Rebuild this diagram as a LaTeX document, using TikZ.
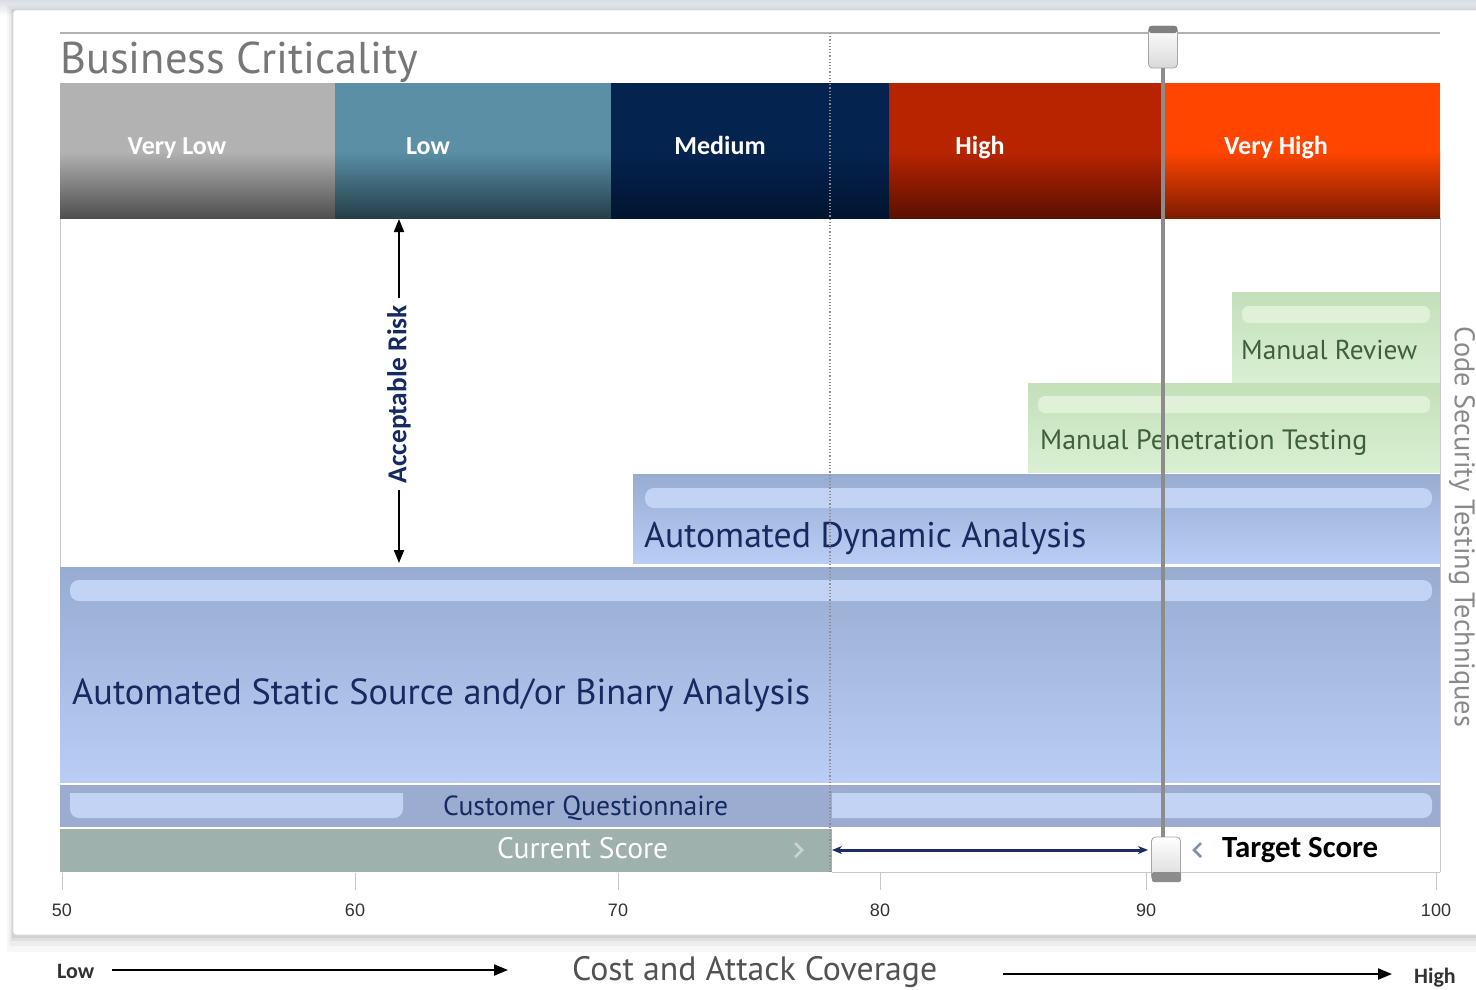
\documentclass[tikz,border=0pt]{standalone}
\usepackage{fontspec}
\usepackage{graphicx}
\setmainfont{PT Sans}
\newfontfamily\calfont{Carlito}
\newfontfamily\arialfont{Liberation Sans}
\usetikzlibrary{arrows.meta}
\newcommand\fitw[2]{\resizebox{#1pt}{!}{#2}}
\definecolor{bgtop}{HTML}{D9DDE3}
\definecolor{panelborder}{HTML}{D3D8DF}
\definecolor{titlegray}{HTML}{777777}
\definecolor{vlowT}{HTML}{B2B2B2}
\definecolor{vlowB}{HTML}{4E4E4E}
\definecolor{lowT}{HTML}{5A8FA6}
\definecolor{lowB}{HTML}{243E49}
\definecolor{medT}{HTML}{05234F}
\definecolor{medB}{HTML}{011530}
\definecolor{highT}{HTML}{B82400}
\definecolor{highB}{HTML}{5A1000}
\definecolor{vhighT}{HTML}{FF4500}
\definecolor{vhighB}{HTML}{7E1C00}
\definecolor{navytext}{HTML}{142A60}
\definecolor{greentext}{HTML}{3F5F3A}
\definecolor{blueT}{HTML}{98ABD1}
\definecolor{blueB}{HTML}{BACDF5}
\definecolor{bluepill}{HTML}{C2D3F3}
\definecolor{greenT}{HTML}{C3E0B9}
\definecolor{greenB}{HTML}{DAEFD3}
\definecolor{greenpill}{HTML}{DFF2D8}
\definecolor{custq}{HTML}{9BACD0}
\definecolor{curfill}{HTML}{9FB1AD}
\definecolor{codegray}{HTML}{8A8A8A}
\definecolor{axisgray}{HTML}{C8C8C8}
\definecolor{targetline}{HTML}{8C8C8C}
\definecolor{arrownavy}{HTML}{1A2D66}
\definecolor{chevgray}{HTML}{7F8DB2}
\tikzset{
  critlabel/.style={text=white, anchor=base, inner sep=0, font=\calfont\bfseries\fontsize{26}{26}\selectfont},
  bartext/.style={anchor=base west, inner sep=0, text=navytext},
  greenlabel/.style={anchor=base west, inner sep=0, text=greentext},
  bluebar/.style={top color=blueT, bottom color=blueB},
  greenbar/.style={top color=greenT, bottom color=greenB},
  bluepillst/.style={fill=bluepill, rounded corners=9},
  greenpillst/.style={fill=greenpill, rounded corners=7},
  ticklabel/.style={anchor=center, inner sep=0, text=black!80, font=\arialfont\fontsize{18}{18}\selectfont},
  tickline/.style={draw=axisgray, line width=1},
  bigarrow/.style={line width=2.2, -{Triangle[length=14pt,width=11pt]}},
  riskarrow/.style={line width=2, -{Triangle[length=13pt,width=10pt]}},
  handle/.style={draw=black!35, line width=0.8, top color=white, bottom color=black!15, rounded corners=4}
}
\begin{document}
\begin{tikzpicture}[x=1pt,y=-1pt]
\useasboundingbox (0,0) rectangle (1476,989);
\clip (0,0) rectangle (1476,989);
\fill[white] (0,0) rectangle (1476,989);
\shade[top color=bgtop, bottom color=white] (0,0) rectangle (1476,16);
% panel with soft shadow
\fill[black, opacity=0.03] (7,5) rectangle (1490,952);
\fill[black, opacity=0.04] (9,7) rectangle (1490,946);
\fill[black, opacity=0.05] (11,9) rectangle (1490,941);
\fill[black, opacity=0.06] (12,10) rectangle (1490,938);
\filldraw[fill=white, draw=panelborder, line width=0.8, rounded corners=3] (13,10) rectangle (1495,935);

% top rule and title
\draw[black!30, line width=1.5] (60,33) -- (1440,33);
\node[anchor=base west, inner sep=0, text=titlegray] (title) at (60,73) {\fitw{358}{Business Criticality}};

% plot frame lines
\draw[axisgray, line width=1] (60,218) -- (60,567);
\draw[axisgray, line width=1] (1440,218) -- (1440,872);
\draw[axisgray, line width=1] (832,872) -- (1440,872);

% criticality bands
\fill[vlowT] (60,83) rectangle (336,152);
\shade[top color=vlowT, bottom color=vlowB] (60,151.5) rectangle (336,218);
\fill[lowT] (335,83) rectangle (612,152);
\shade[top color=lowT, bottom color=lowB] (335,151.5) rectangle (612,218);
\fill[medT] (611,83) rectangle (890,152);
\shade[top color=medT, bottom color=medB] (611,151.5) rectangle (890,218);
\fill[highT] (889,83) rectangle (1164,152);
\shade[top color=highT, bottom color=highB] (889,151.5) rectangle (1164,218);
\fill[vhighT] (1163,83) rectangle (1440,152);
\shade[top color=vhighT, bottom color=vhighB] (1163,151.5) rectangle (1440,218);
\node[critlabel] (vlow) at (177,154) {Very Low};
\node[critlabel] (low) at (428,154) {Low};
\node[critlabel] (med) at (720,154) {Medium};
\node[critlabel] (high) at (980,154) {High};
\node[critlabel] (vhigh) at (1276,154) {Very High};

% technique bars
\shade[greenbar] (1232,292) rectangle (1440,382);
\fill[greenpillst] (1242,306) rectangle (1430,323);
\node[greenlabel] (mr) at (1241,359) {\fitw{176}{Manual Review}};

\shade[greenbar] (1028,383) rectangle (1440,472);
\fill[greenpillst] (1038,396) rectangle (1430,413);
\node[greenlabel] (mpt) at (1040,449) {\fitw{327}{Manual Penetration Testing}};

\shade[bluebar] (633,474) rectangle (1440,563);
\fill[bluepillst] (645,488) rectangle (1432,508);
\node[bartext] (dyn) at (644,547) {\fitw{442}{Automated Dynamic Analysis}};

\shade[bluebar] (60,567) rectangle (1440,782);
\fill[bluepillst] (70,580) rectangle (1432,601);
\node[bartext] (stat) at (72,704) {\fitw{738}{Automated Static Source and/or Binary Analysis}};

\fill[custq] (60,785) rectangle (1440,827);
\fill[bluepill, rounded corners=9] (70,793) -- (70,818) -- (403,818) [sharp corners] -- (403,793) -- cycle;
\fill[bluepill] (832,793) -- (832,818) [rounded corners=9] -- (1432,818) -- (1432,793) [sharp corners] -- cycle;
\node[bartext] (cq) at (443,815) {\fitw{285}{Customer Questionnaire}};

\fill[curfill] (60,829) rectangle (832,872);
\node[anchor=base west, inner sep=0, text=white] (cur) at (497,858) {\fitw{171}{Current Score}};
\coordinate (curend) at (832,850);
\draw[white, opacity=0.45, line width=2.5] (795,843) -- (802,850) -- (795,857);

% dotted current-score line
\draw[black!45, dotted, line width=1.2] (830,33) -- (830,872);

% axis ticks
\foreach \x/\l in {62/50,355/60,618/70,880/80,1146/90,1436/100}{
  \draw[tickline] (\x,873) -- (\x,890);
  \node[ticklabel] (t\l) at (\x,910) {\l};
}

% target line and handles
\node[handle, minimum width=29, minimum height=42, inner sep=0] (th) at (1163,47) {};
\fill[black!50, rounded corners=2] (1149,26) rectangle (1177,33);
\node[handle, minimum width=29, minimum height=44, inner sep=0] (bh) at (1166,859) {};
\fill[black!45, rounded corners=2] (1152,872) rectangle (1181,882);
\draw[targetline, line width=4] (th.south -| 1163,0) -- (bh.north -| 1163,0);

% score gap arrow
\coordinate (gapend) at (1148,850);
\draw[arrownavy, line width=3, {Stealth[length=10pt,width=8pt]}-{Stealth[length=10pt,width=8pt]}] (curend) -- (gapend);
\draw[chevgray, line width=2.5] (1201,843) -- (1194,850) -- (1201,857);
\node[anchor=base west, inner sep=0, text=black, font=\calfont\bfseries\fontsize{29}{29}\selectfont] (target) at (1222,857) {\fitw{156}{Target Score}};

% acceptable risk
\node[rotate=90, inner sep=7, text=navytext] (risk) at (399,394) {\calfont\bfseries\fitw{178}{Acceptable Risk}};
\coordinate (risktop) at (399,219);
\coordinate (riskbot) at (399,563);
\draw[riskarrow] (risk.east) -- (risktop);
\draw[riskarrow] (risk.west) -- (riskbot);

% side label
\node[rotate=-90, inner sep=0, text=codegray] (code) at (1462,527) {\fitw{400}{Code Security Testing Techniques}};

% bottom axis caption
\node[anchor=base west, inner sep=0, text=black!80, font=\calfont\bfseries\fontsize{22}{22}\selectfont] (lowl) at (57,978) {Low};
\node[anchor=base west, inner sep=0, text=black!68] (cost) at (572,980) {\fitw{365}{Cost and Attack Coverage}};
\node[anchor=base west, inner sep=0, text=black!80, font=\calfont\bfseries\fontsize{22}{22}\selectfont] (highl) at (1414,983) {High};
\coordinate (a1s) at (112,970);
\coordinate (a1e) at (508,970);
\coordinate (a2s) at (1003,974);
\coordinate (a2e) at (1392,974);
\draw[bigarrow] (a1s) -- (a1e);
\draw[bigarrow] (a2s) -- (a2e);
\end{tikzpicture}
\end{document}
